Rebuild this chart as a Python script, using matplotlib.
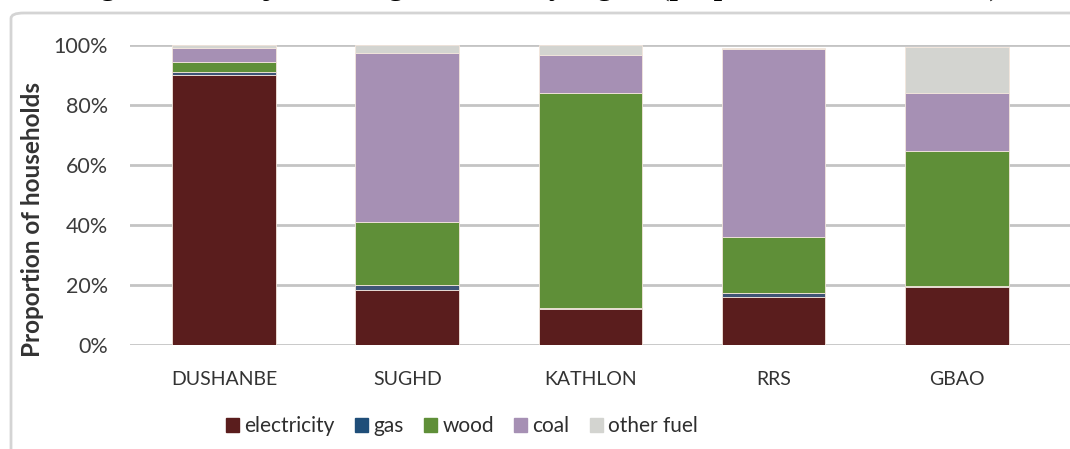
import numpy as np
import matplotlib.pyplot as plt
from matplotlib.patches import FancyBboxPatch

regions = ['DUSHANBE', 'SUGHD', 'KATHLON', 'RRS', 'GBAO']
fuels = ['electricity', 'gas', 'wood', 'coal', 'other fuel']

# share of households by main fuel, in %
electricity = [90.0, 18.3, 11.9, 16.1, 19.4]
gas = [1.0, 1.7, 0.3, 1.1, 0.2]
wood = [3.5, 21.1, 71.9, 18.7, 45.2]
coal = [4.5, 56.1, 12.6, 62.7, 19.1]
other_fuel = [1.0, 2.8, 3.3, 0.4, 15.5]

colors = ['#5a1d1d', '#3f5577', '#5f8f38', '#a690b4', '#d3d4d0']
legend_colors = ['#5a1d1d', '#1f4e79', '#5f8f38', '#a690b4', '#d3d4d0']

plt.rcParams['font.family'] = ['Lato', 'DejaVu Sans']

fig = plt.figure(figsize=(10.7, 4.49), dpi=100)

# chart frame, running off the right and bottom edges
frame = FancyBboxPatch((11/1070, -0.2), 1.2, (449-13)/449 + 0.2,
                       boxstyle='round,pad=0,rounding_size=0.012',
                       transform=fig.transFigure, fill=False,
                       edgecolor='#d4d4d4', linewidth=2)
fig.patches.append(frame)

# heading, mostly cut off at the top
fig.text(537/1070, 1 + 5.2/449, 'Figure 3.2: Major heating fuel used by region (proportion of households)',
         family='Liberation Serif', weight='bold', fontsize=21.5, color='black',
         ha='center', va='baseline')

ax = fig.add_axes([130/1070, (449-345)/449, 940/1070, 300/449])

x = np.arange(len(regions))
series = [electricity, gas, wood, coal, other_fuel]
bottom = np.zeros(len(regions))
for name, vals, c in zip(fuels, series, colors):
    ax.bar(x, vals, width=0.565, bottom=bottom, color=c,
           edgecolor='#f3e6dc', linewidth=0.6, zorder=3)
    bottom += np.array(vals)

ax.set_xlim(-0.513, 4.617)
ax.set_ylim(0, 100)
ax.set_yticks(np.arange(0, 101, 20))
ax.set_yticklabels([f'{v}%' for v in range(0, 101, 20)])
ax.set_xticks(x)
ax.set_xticklabels(regions)
ax.grid(axis='y', color='#c4c4c4', linewidth=2, zorder=0)
ax.set_axisbelow(True)
for s in ax.spines.values():
    s.set_visible(False)
ax.tick_params(axis='y', length=0, pad=16, labelsize=15.5, labelcolor='#3c3c3c')
ax.tick_params(axis='x', length=0, pad=19, labelsize=14, labelcolor='#333333')

ax.set_ylabel('Proportion of households', fontsize=17.5, weight='bold', color='#333333')
ax.yaxis.set_label_coords(-0.0915, 0.417)

handles = [plt.Rectangle((0, 0), 1, 1, color=c) for c in legend_colors]
fig.legend(handles, fuels, loc='center', bbox_to_anchor=(462/1070, (449-426)/449),
           ncol=5, frameon=False, fontsize=15, handlelength=0.65, handleheight=0.65,
           handletextpad=0.25, columnspacing=0.95, labelcolor='#2e2e2e')

fig.savefig('out.png', dpi=100)
